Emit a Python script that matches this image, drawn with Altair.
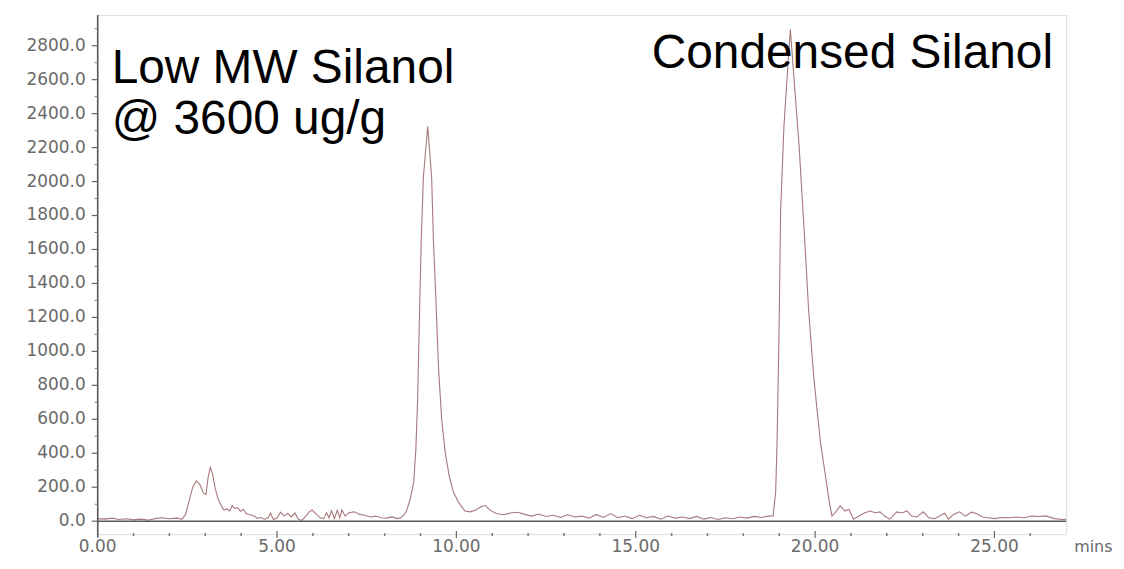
import altair as alt
import pandas as pd

# chromatogram trace: time (min) and detector response
time_min = [
    0.0, 0.2, 0.4, 0.6, 0.8, 1.0, 1.2, 1.4, 1.6, 1.8, 2.0, 2.2, 2.35,
    2.45, 2.55, 2.65, 2.75, 2.85, 2.95, 3.02, 3.08, 3.14, 3.2, 3.28, 3.36,
    3.45, 3.52, 3.6, 3.68, 3.75, 3.82, 3.9, 3.98, 4.06, 4.14, 4.25, 4.35,
    4.45, 4.55, 4.65, 4.75, 4.82, 4.9, 5.0, 5.1, 5.2, 5.3, 5.4, 5.5, 5.6,
    5.7, 5.8, 5.9, 5.98, 6.1, 6.2, 6.3, 6.38, 6.45, 6.52, 6.6, 6.68, 6.75,
    6.81, 6.9, 7.0, 7.15, 7.3, 7.45, 7.6, 7.75, 7.9, 8.05, 8.2, 8.35, 8.45,
    8.53, 8.61, 8.71, 8.81, 8.87, 8.92, 8.96, 9.02, 9.08, 9.20, 9.31, 9.36,
    9.43, 9.50, 9.59, 9.69, 9.80, 9.92, 10.06, 10.24, 10.39, 10.52, 10.69,
    10.81, 10.94, 11.11, 11.31, 11.5, 11.72, 11.9, 12.1, 12.3, 12.5, 12.7,
    12.9, 13.1, 13.3, 13.5, 13.7, 13.9, 14.1, 14.3, 14.5, 14.7, 14.9, 15.1,
    15.3, 15.5, 15.7, 15.9, 16.1, 16.3, 16.5, 16.7, 16.9, 17.1, 17.3, 17.5,
    17.7, 17.9, 18.1, 18.3, 18.5, 18.7, 18.83, 18.90, 18.94, 18.99, 19.04,
    19.13, 19.22, 19.31, 19.41, 19.55, 19.69, 19.82, 19.96, 20.15, 20.29,
    20.39, 20.47, 20.56, 20.70, 20.83, 20.94, 21.07, 21.22, 21.39, 21.54,
    21.67, 21.81, 21.94, 22.08, 22.28, 22.42, 22.56, 22.69, 22.83, 23.02,
    23.17, 23.33, 23.47, 23.61, 23.72, 23.86, 24.03, 24.19, 24.36, 24.5,
    24.67, 24.83, 25.0, 25.19, 25.39, 25.61, 25.83, 26.03, 26.22, 26.44,
    26.67, 26.89, 27.0,
]
response = [
    15, 12, 18, 10, 14, 8, 12, 6, 15, 20, 14, 18, 12,
    40, 120, 200, 237, 215, 165, 158, 260, 317, 280, 190, 129,
    90, 65, 72, 60, 92, 75, 80, 58, 70, 45, 38, 30,
    18, 22, 12, 20, 47, 10, 18, 53, 30, 45, 25, 48, 10,
    5, 30, 55, 66, 40, 20, 15, 50, 20, 62, 15, 64, 20,
    66, 30, 50, 55, 40, 35, 25, 30, 20, 18, 25, 15, 20,
    35, 60, 129, 229, 423, 716, 1109, 1655, 2026, 2324, 2026, 1655,
    1303, 911, 599, 403, 266, 170, 111, 60, 55, 65, 85,
    92, 65, 45, 38, 48, 53, 40, 30, 42, 28, 35,
    22, 38, 25, 30, 18, 40, 22, 45, 20, 30, 15, 35,
    20, 28, 12, 30, 18, 25, 15, 28, 12, 22, 10, 20,
    14, 25, 18, 28, 22, 30, 31, 170, 463, 1050, 1831,
    2320, 2613, 2897, 2613, 2223, 1733, 1244, 853, 463, 266,
    120, 30, 51, 90, 60, 70, 12, 30, 50, 60,
    50, 55, 30, 12, 55, 48, 60, 30, 25, 55,
    20, 15, 30, 47, 12, 40, 55, 30, 53, 45,
    25, 20, 15, 22, 20, 25, 20, 30, 28, 31,
    15, 10, 12,
]

x_major = [0, 5, 10, 15, 20, 25]
x_labels = ["0.00", "5.00", "10.00", "15.00", "20.00", "25.00"]
x_minor = [1, 2, 3, 4, 6, 7, 8, 9, 11, 12, 13, 14, 16, 17, 18, 19, 21, 22, 23, 24, 26]
y_major = [0, 200, 400, 600, 800, 1000, 1200, 1400, 1600, 1800, 2000, 2200, 2400, 2600, 2800]
y_labels = ["0.0", "200.0", "400.0", "600.0", "800.0", "1000.0", "1200.0", "1400.0",
            "1600.0", "1800.0", "2000.0", "2200.0", "2400.0", "2600.0", "2800.0"]
y_minor = [100, 300, 500, 700, 900, 1100, 1300, 1500, 1700, 1900, 2100, 2300, 2500, 2700, 2900]

label_line1 = "Low MW Silanol"
label_line2 = "@ 3600 ug/g"
label_right = "Condensed Silanol"
x_unit = "mins"

W, H = 972, 521
x_dom = [0, 27]
y_dom = [-76, 2981]

xs = alt.Scale(domain=x_dom, nice=False, zero=False)
ys = alt.Scale(domain=y_dom, nice=False, zero=False)

trace = pd.DataFrame({"t": time_min, "v": response})

line = alt.Chart(trace).mark_line(color="#a8787c", strokeWidth=1.1).encode(
    x=alt.X("t:Q", scale=xs, axis=None),
    y=alt.Y("v:Q", scale=ys, axis=None),
)

baseline = alt.Chart(pd.DataFrame({"v": [0]})).mark_rule(
    color="#5a5a5a", strokeWidth=1.5).encode(
    y=alt.Y("v:Q", scale=ys, axis=None))

left_axis = alt.Chart(pd.DataFrame({"v": [0]})).mark_rule(
    color="#555", strokeWidth=1.5).encode(
    x=alt.value(0), y=alt.value(0), y2=alt.value(H + 3))

ymajor_ticks = alt.Chart(pd.DataFrame({"v": y_major})).mark_rule(
    color="#666", strokeWidth=1.2).encode(
    y=alt.Y("v:Q", scale=ys, axis=None), x=alt.value(-6), x2=alt.value(0))

yminor_ticks = alt.Chart(pd.DataFrame({"v": y_minor})).mark_rule(
    color="#777", strokeWidth=1).encode(
    y=alt.Y("v:Q", scale=ys, axis=None), x=alt.value(-3), x2=alt.value(0))

ylabels = alt.Chart(pd.DataFrame({"v": y_major, "lab": y_labels})).mark_text(
    align="right", baseline="middle", font="DejaVu Sans", fontSize=17,
    color="#6a6a6a").encode(
    y=alt.Y("v:Q", scale=ys, axis=None), x=alt.value(-12), text="lab:N")

xmajor_ticks = alt.Chart(pd.DataFrame({"t": x_major})).mark_rule(
    color="#666", strokeWidth=1.2).encode(
    x=alt.X("t:Q", scale=xs, axis=None), y=alt.value(H - 3), y2=alt.value(H + 4))

xminor_ticks = alt.Chart(pd.DataFrame({"t": x_minor})).mark_rule(
    color="#777", strokeWidth=1.5).encode(
    x=alt.X("t:Q", scale=xs, axis=None), y=alt.value(H - 1), y2=alt.value(H + 2))

xlabels = alt.Chart(pd.DataFrame({"t": x_major, "lab": x_labels})).mark_text(
    align="center", baseline="top", font="DejaVu Sans", fontSize=17,
    color="#6a6a6a").encode(
    x=alt.X("t:Q", scale=xs, axis=None), y=alt.value(H + 5), text="lab:N")

txt1 = alt.Chart(pd.DataFrame({"label": [label_line1]})).mark_text(
    align="left", baseline="alphabetic", font="Liberation Sans", fontSize=48,
    color="#000").encode(text="label:N", x=alt.value(14), y=alt.value(68))

txt2 = alt.Chart(pd.DataFrame({"label": [label_line2]})).mark_text(
    align="left", baseline="alphabetic", font="Liberation Sans", fontSize=48,
    color="#000").encode(text="label:N", x=alt.value(14), y=alt.value(119))

txt_right = alt.Chart(pd.DataFrame({"label": [label_right]})).mark_text(
    align="left", baseline="alphabetic", font="Liberation Sans", fontSize=48,
    color="#000").encode(text="label:N", x=alt.value(556), y=alt.value(53))

mins = alt.Chart(pd.DataFrame({"label": [x_unit]})).mark_text(
    align="left", baseline="top", font="DejaVu Sans", fontSize=16,
    color="#6a6a6a").encode(text="label:N", x=alt.value(W + 8), y=alt.value(H + 5))

chart = alt.layer(line, baseline, left_axis, ymajor_ticks, yminor_ticks, ylabels,
                  xmajor_ticks, xminor_ticks, xlabels,
                  txt1, txt2, txt_right, mins).properties(
    width=W, height=H,
    autosize=alt.AutoSizeParams(type="none"),
    padding={"left": 90, "top": 6, "right": 50, "bottom": 22},
).configure_view(stroke="#8c8c8c", strokeWidth=2).configure(background="white")

chart.save("out.html", embed_options={"renderer": "svg", "actions": False})
